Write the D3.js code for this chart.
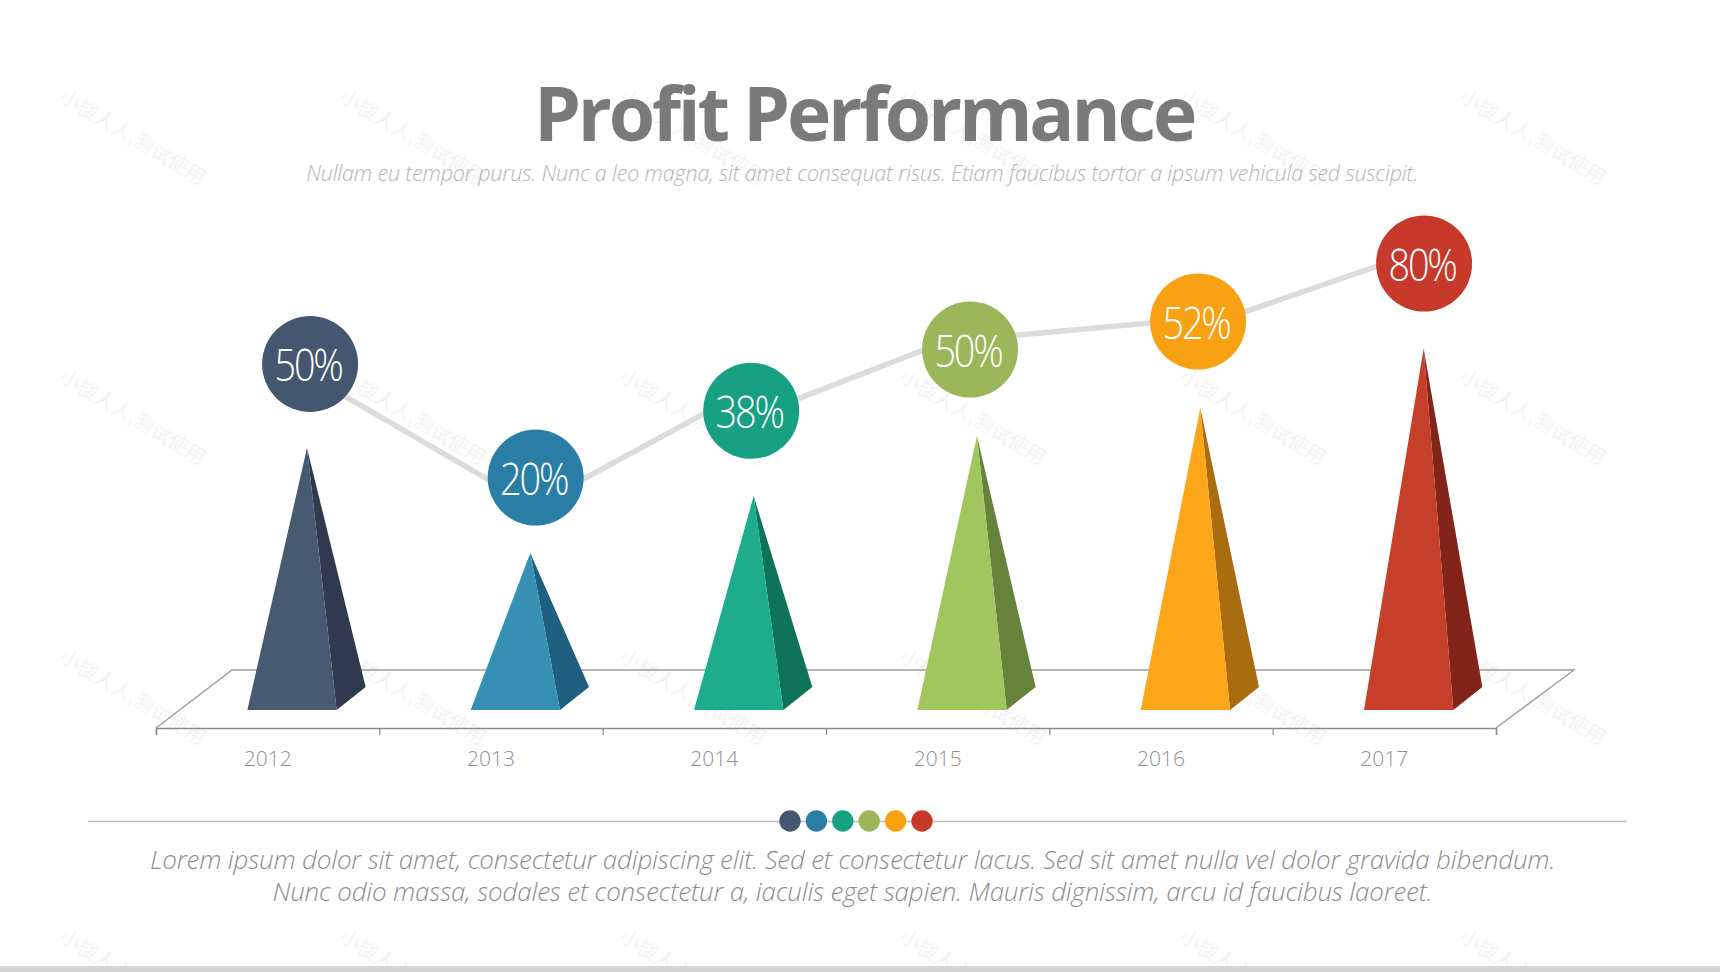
<!DOCTYPE html>
<html><head><meta charset="utf-8">
<script src="https://cdn.jsdelivr.net/npm/d3@7"></script>
<style>html,body{margin:0;padding:0;background:#fff;overflow:hidden}svg{display:block}
text{font-family:"Open Sans",sans-serif}</style></head><body>
<svg id="c" width="1720" height="972"></svg>
<script>
const years=["2012","2013","2014","2015","2016","2017"];
const labels=["50%","20%","38%","50%","52%","80%"];
const pyramidHeight=[65.5,39.25,53.5,68.5,75.5,90.4];
const bubbleLevel=[86.5,58.1,74.8,90.1,97.1,111.6];
const bubblePos=[2012.69,2013.7,2014.665,2015.645,2016.666,2017.678];
const lineIn=[null,50.75,80.5,94.5,97.9,115];
const lineOut=[83.5,51.25,73.25,92.65,95.5,null];
const frontColors=["#475a72","#3590b4","#1dac8c","#a1c65d","#fda619","#c63f2b"];
const sideColors=["#2f3a4e","#1f5f80","#0f7359","#67823a","#a96d0f","#82241a"];
const bubbleColors=["#455670","#2a7ea6","#17a182","#9ab85a","#f7a113","#c7392a"];
const titleText="Profit Performance";
const subtitleText="Nullam eu tempor purus. Nunc a leo magna, sit amet consequat risus. Etiam faucibus tortor a ipsum vehicula sed suscipit.";
const bodyLines=["Lorem ipsum dolor sit amet, consectetur adipiscing elit. Sed et consectetur lacus. Sed sit amet nulla vel dolor gravida bibendum.","Nunc odio massa, sodales et consectetur a, iaculis eget sapien. Mauris dignissim, arcu id faucibus laoreet."];
const watermarkText="小楼人人,测试使用";

const svg=d3.select("#c");
const axisY=728, floorBack=670, baseY=710;
const band=d3.scaleBand().domain(years).range([156,1496]).paddingInner(0).paddingOuter(0);
const xPos=d3.scaleLinear().domain([2012,2018]).range([156,1496]);
const y=d3.scaleLinear().domain([0,100]).range([baseY,baseY-400]);

// watermark
const wm=svg.append("g");
d3.range(6).forEach(c=>d3.range(4).forEach(r=>{
  wm.append("text").attr("transform",`translate(${133+c*280},${137+r*280}) rotate(31)`)
    .attr("text-anchor","middle").attr("dy","0.35em")
    .style("font-family",'"Noto Sans CJK SC"').style("font-size","20px").attr("fill","#f3f3f3").text(watermarkText);
}));

// floor
svg.append("path").attr("d",`M156,${axisY}L232,${floorBack}L1574,${floorBack}L1496,${axisY}`)
  .attr("fill","none").attr("stroke","#9c9c9c").attr("stroke-width",1.4);

// axis
const tickAxis=svg.append("g").attr("transform",`translate(0,${axisY})`)
  .call(d3.axisBottom(xPos).tickValues(d3.range(2012,2019)).tickSize(7).tickFormat(""));
tickAxis.selectAll("path").attr("stroke","#8c8c8c").attr("stroke-width",1.6);
tickAxis.selectAll("line").attr("stroke","#8c8c8c").attr("stroke-width",1.2);
const labelAxis=svg.append("g").attr("transform",`translate(0,${axisY})`)
  .call(d3.axisBottom(band).tickSize(0).tickPadding(23));
labelAxis.select("path").remove();
labelAxis.selectAll("text").style("font-family",'"Open Sans"').style("font-size","21px").style("font-weight",300).attr("fill","#8f8f8f");

// pyramids
const faceL=-20.3, faceR=69, backR=98, apexX=39.3, backY=687;
const pyr=svg.append("g").selectAll("g").data(years).join("g");
pyr.append("path").attr("fill",(d,i)=>sideColors[i]).attr("d",(d,i)=>{
  const c=band(d)+band.bandwidth()/2;
  return d3.line()([[c+apexX,y(pyramidHeight[i])],[c+faceR,baseY],[c+backR,backY]])+"Z";
});
pyr.append("path").attr("fill",(d,i)=>frontColors[i]).attr("d",(d,i)=>{
  const c=band(d)+band.bandwidth()/2;
  return d3.line()([[c+apexX,y(pyramidHeight[i])],[c+faceL,baseY],[c+faceR,baseY]])+"Z";
});

// trend line
const pts=[];
years.forEach((d,i)=>{
  if(lineIn[i]!==null)pts.push([xPos(bubblePos[i]),y(lineIn[i])]);
  if(lineOut[i]!==null)pts.push([xPos(bubblePos[i]),y(lineOut[i])]);
});
svg.append("path").attr("d",d3.line()(pts)).attr("fill","none").attr("stroke","#dcdcdc").attr("stroke-width",5.5);

// bubbles
const b=svg.append("g").selectAll("g").data(years).join("g")
  .attr("transform",(d,i)=>`translate(${xPos(bubblePos[i])},${y(bubbleLevel[i])})`);
b.append("circle").attr("r",48).attr("fill",(d,i)=>bubbleColors[i]);
b.append("text").attr("text-anchor","middle").attr("dy","0.39em")
  .attr("transform","translate(-2,0) scale(0.86,1)")
  .style("font-size","44px").style("font-weight",300).style("letter-spacing","-2.5px")
  .attr("fill","#fff").text((d,i)=>labels[i]);

// headings
svg.append("text").attr("x",864).attr("y",141).attr("text-anchor","middle")
  .style("font-size","75px").style("font-weight",700).style("letter-spacing","-3.2px").attr("fill","#7a7a7a").text(titleText);
svg.append("text").attr("x",862).attr("y",181).attr("text-anchor","middle")
  .style("font-size","21.5px").style("font-weight",300).style("font-style","italic").style("letter-spacing","-0.16px").attr("fill","#b4b4b4").text(subtitleText);

// divider and dots
const dotX=d3.scalePoint().domain(years).range([790,922]);
svg.append("line").attr("x1",88).attr("x2",1627).attr("y1",821.5).attr("y2",821.5).attr("stroke","#bcbcbc").attr("stroke-width",1.4);
svg.append("g").selectAll("circle").data(years).join("circle")
  .attr("cx",d=>dotX(d)).attr("cy",821).attr("r",10.7).attr("fill",(d,i)=>bubbleColors[i]);

// body text
svg.append("g").selectAll("text").data(bodyLines).join("text")
  .attr("x",852.5).attr("y",(d,i)=>i?901:869).attr("text-anchor","middle")
  .style("font-size","26px").style("font-weight",300).style("font-style","italic").style("letter-spacing","-0.19px").attr("fill","#8e8e8e").text(d=>d);

// bottom strip
svg.append("rect").attr("x",0).attr("y",966).attr("width",1720).attr("height",6).attr("fill","#d4d4d4");
</script></body></html>
